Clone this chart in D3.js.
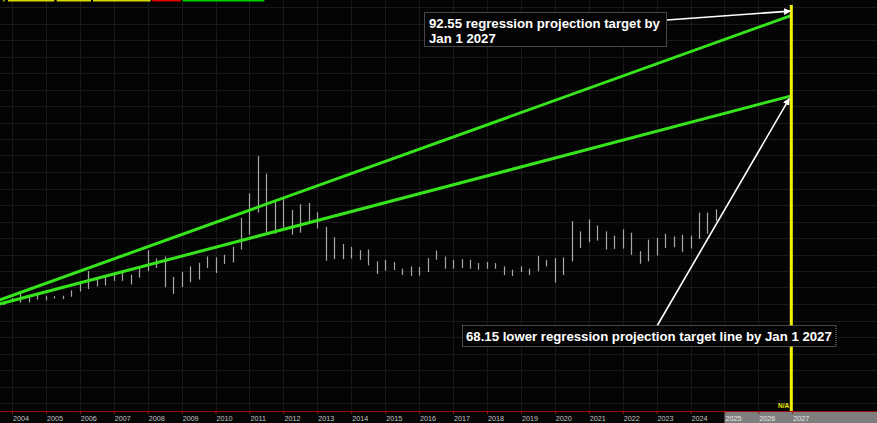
<!DOCTYPE html>
<html>
<head>
<meta charset="utf-8">
<script src="https://cdn.jsdelivr.net/npm/d3@7"></script>
<style>
  html, body { margin: 0; padding: 0; background: #040404; overflow: hidden; }
  svg { display: block; }
</style>
</head>
<body>
<div id="chart"></div>
<script>
// ---------- DATA ----------
const quarters = [
  "2003Q4",
  "2004Q1","2004Q2","2004Q3","2004Q4","2005Q1","2005Q2","2005Q3","2005Q4",
  "2006Q1","2006Q2","2006Q3","2006Q4","2007Q1","2007Q2","2007Q3","2007Q4",
  "2008Q1","2008Q2","2008Q3","2008Q4","2009Q1","2009Q2","2009Q3","2009Q4",
  "2010Q1","2010Q2","2010Q3","2010Q4","2011Q1","2011Q2","2011Q3","2011Q4",
  "2012Q1","2012Q2","2012Q3","2012Q4","2013Q1","2013Q2","2013Q3","2013Q4",
  "2014Q1","2014Q2","2014Q3","2014Q4","2015Q1","2015Q2","2015Q3","2015Q4",
  "2016Q1","2016Q2","2016Q3","2016Q4","2017Q1","2017Q2","2017Q3","2017Q4",
  "2018Q1","2018Q2","2018Q3","2018Q4","2019Q1","2019Q2","2019Q3","2019Q4",
  "2020Q1","2020Q2","2020Q3","2020Q4","2021Q1","2021Q2","2021Q3","2021Q4",
  "2022Q1","2022Q2","2022Q3","2022Q4","2023Q1","2023Q2","2023Q3","2023Q4",
  "2024Q1","2024Q2","2024Q3","2024Q4"
];
const highs = [
  5.7,
  6.8, 8.3, 7.2, 8.0, 7.5, 7.4, 7.5, 9.1,
  12.0, 15.0, 12.8, 13.2, 14.2, 14.4, 13.9, 15.9,
  21.3, 18.8, 19.4, 13.2, 14.7, 16.4, 17.5, 19.4,
  19.1, 19.9, 22.3, 31.1, 38.5, 49.8, 44.5, 36.2,
  36.9, 33.5, 35.2, 35.6, 32.8, 28.4, 25.2, 23.2,
  22.3, 21.3, 21.5, 17.9, 18.4, 17.7, 15.7, 16.4,
  16.2, 18.9, 21.2, 19.4, 18.4, 18.6, 18.4, 17.4,
  17.7, 17.4, 16.4, 15.4, 16.4, 15.7, 19.6, 18.4,
  18.9, 19.1, 30.1, 27.0, 30.6, 28.8, 27.0, 25.7,
  27.6, 26.6, 21.0, 24.5, 25.0, 26.3, 25.5, 26.0,
  25.7, 32.7, 32.7, 33.7
];
const lows = [
  4.7,
  5.6, 5.4, 5.5, 6.3, 6.1, 6.7, 6.5, 7.2,
  8.8, 9.5, 10.3, 10.6, 12.0, 12.0, 10.9, 13.0,
  15.0, 15.9, 10.1, 8.1, 10.1, 11.6, 12.4, 15.9,
  14.4, 17.1, 17.6, 21.5, 26.0, 32.7, 26.7, 26.3,
  28.1, 26.0, 26.6, 30.1, 27.9, 18.1, 18.6, 18.6,
  18.8, 18.4, 16.7, 14.1, 15.1, 15.3, 13.8, 13.5,
  13.6, 14.7, 18.4, 15.7, 15.7, 15.9, 15.7, 15.4,
  15.7, 15.7, 13.8, 13.5, 14.7, 13.8, 14.9, 16.4,
  11.5, 13.8, 17.9, 22.0, 23.7, 24.2, 21.5, 21.7,
  21.8, 19.9, 17.2, 17.9, 19.7, 22.0, 22.2, 20.8,
  21.8, 24.7, 26.3, 30.1
];
const years = [2004,2005,2006,2007,2008,2009,2010,2011,2012,2013,2014,2015,
               2016,2017,2018,2019,2020,2021,2022,2023,2024,2025,2026,2027];
const gridValues = [-25,-20,-15,-10,-5,0,5,10,15,20,25,30,35,40,45,50,55,60,65,70,75,80,85,90,95];
const upperLineDates = [2003.6, 2027];
const upperLineValues = [6.1, 92.55];
const lowerLineDates = [2003.6, 2027];
const lowerLineValues = [4.9, 68.15];
const targetDate = 2027;
const futureStart = 2025;
const upperLabel = ["92.55 regression projection target by", "Jan 1 2027"];
const lowerLabel = "68.15 lower regression projection target line by Jan 1 2027";

// ---------- SETUP ----------
const W = 877, H = 423;
const axisY = 411;
const svg = d3.select("#chart").append("svg").attr("width", W).attr("height", H);

const x = d3.scaleLinear().domain([2004, 2027]).range([12, 792.3]);
const y = d3.scaleLinear().domain([0, 90]).range([320.5, 23.5]);

const qDate = q => +q.slice(0, 4) + (+q.slice(5) - 1) / 4;
const bars = quarters.map((q, i) => ({ d: qDate(q), hi: highs[i], lo: lows[i] }));

svg.append("rect").attr("width", W).attr("height", H).attr("fill", "#040404");

// grid
const grid = svg.append("g").attr("stroke", "#191919").attr("stroke-width", 1);
grid.selectAll("line.h").data(gridValues).join("line")
  .attr("x1", 0).attr("x2", W)
  .attr("y1", d => Math.round(y(d)) + 0.5).attr("y2", d => Math.round(y(d)) + 0.5);
grid.selectAll("line.v").data(years).join("line")
  .attr("y1", 0).attr("y2", axisY)
  .attr("x1", d => Math.round(x(d)) + 0.5).attr("x2", d => Math.round(x(d)) + 0.5);

// top indicator strip
const strip = [[2.7, 5, "#8a8a00"], [8, 54.3, "#d8d800"], [56.7, 91, "#d8d800"], [93, 150.7, "#d8d800"],
               [152.3, 181, "#e00000"], [182.7, 264.3, "#00d000"]];
svg.append("g").selectAll("rect").data(strip).join("rect")
  .attr("x", d => d[0]).attr("y", 0).attr("width", d => d[1] - d[0]).attr("height", 1.5)
  .attr("fill", d => d[2]);

// price bars
svg.append("g").selectAll("line").data(bars).join("line")
  .attr("x1", d => Math.round(x(d.d)) + 0.5).attr("x2", d => Math.round(x(d.d)) + 0.5)
  .attr("y1", d => y(d.hi)).attr("y2", d => y(d.lo))
  .attr("stroke", "#a8a8a8").attr("stroke-width", 1.2);

// regression lines
const line = d3.line().x(d => x(d[0])).y(d => y(d[1]));
svg.append("path").datum(d3.zip(upperLineDates, upperLineValues)).attr("d", line)
  .attr("fill", "none").attr("stroke", "#36e41c").attr("stroke-width", 3);
svg.append("path").datum(d3.zip(lowerLineDates, lowerLineValues)).attr("d", line)
  .attr("fill", "none").attr("stroke", "#36e41c").attr("stroke-width", 3);

// target vertical line
svg.append("line").attr("x1", x(targetDate) - 1).attr("x2", x(targetDate) - 1)
  .attr("y1", 5).attr("y2", axisY).attr("stroke", "#f2f200").attr("stroke-width", 3);
svg.append("text").attr("x", x(targetDate) - 3).attr("y", 408).attr("text-anchor", "end")
  .attr("font-family", "Liberation Sans, Arial, sans-serif").attr("font-size", 6.5).attr("font-weight", "bold")
  .attr("fill", "#e8e800").text("N/A");

// bottom strip (future shaded)
svg.append("rect").attr("x", 0).attr("y", axisY).attr("width", W).attr("height", H - axisY).attr("fill", "#060606");
svg.append("rect").attr("x", x(futureStart)).attr("y", axisY + 1).attr("width", W - x(futureStart))
  .attr("height", H - axisY - 1).attr("fill", "#7e7e7e");

// axis
const axis = d3.axisBottom(x).tickValues(years).tickFormat(d3.format("d")).tickSize(3).tickSizeOuter(0);
const ag = svg.append("g").attr("transform", `translate(0,${axisY})`).call(axis);
ag.select(".domain").attr("stroke", "#9a0c0c").attr("d", `M0,0.5H${W}`);
ag.selectAll(".tick line").attr("stroke", "#b01010");
ag.selectAll(".tick text").attr("text-anchor", "start").attr("x", 0.5).attr("y", 9.5).attr("dy", 0)
  .attr("fill", d => d >= futureStart ? "#e6e6e6" : "#c4c4c4")
  .attr("font-family", "Liberation Sans, Arial, sans-serif").attr("font-size", 7.2);

// annotations
const defs = svg.append("defs");
defs.append("marker").attr("id", "arr").attr("viewBox", "0 0 10 10").attr("refX", 9).attr("refY", 5)
  .attr("markerWidth", 7).attr("markerHeight", 7).attr("markerUnits", "userSpaceOnUse").attr("orient", "auto")
  .append("path").attr("d", "M0,0L10,5L0,10Z").attr("fill", "#ffffff");

const font = "Liberation Sans, Arial, sans-serif";

// upper annotation
svg.append("rect").attr("x", 424.5).attr("y", 12.5).attr("width", 242).attr("height", 34)
  .attr("fill", "#040404").attr("stroke", "#8a8a8a").attr("stroke-width", 1).attr("stroke-dasharray", "1,1");
const t1 = svg.append("text").attr("font-family", font).attr("font-size", 13.2).attr("font-weight", "bold")
  .attr("fill", "#ffffff");
t1.append("tspan").attr("x", 429).attr("y", 27.5).text(upperLabel[0]);
t1.append("tspan").attr("x", 429).attr("y", 42.5).text(upperLabel[1]);
svg.append("line").attr("x1", 667).attr("y1", 20).attr("x2", x(targetDate) - 2).attr("y2", y(92.55) - 4)
  .attr("stroke", "#ffffff").attr("stroke-width", 1.6).attr("marker-end", "url(#arr)");

// lower annotation
svg.append("line").attr("x1", 657).attr("y1", 326).attr("x2", x(targetDate) - 3).attr("y2", y(68.15) + 3)
  .attr("stroke", "#ffffff").attr("stroke-width", 1.6).attr("marker-end", "url(#arr)");
svg.append("rect").attr("x", 462.5).attr("y", 325.5).attr("width", 373.5).attr("height", 21)
  .attr("fill", "#040404").attr("stroke", "#8a8a8a").attr("stroke-width", 1).attr("stroke-dasharray", "1,1");
svg.append("text").attr("x", 466).attr("y", 341).attr("font-family", font).attr("font-size", 13.2)
  .attr("font-weight", "bold").attr("fill", "#ffffff").text(lowerLabel);
</script>
</body>
</html>
